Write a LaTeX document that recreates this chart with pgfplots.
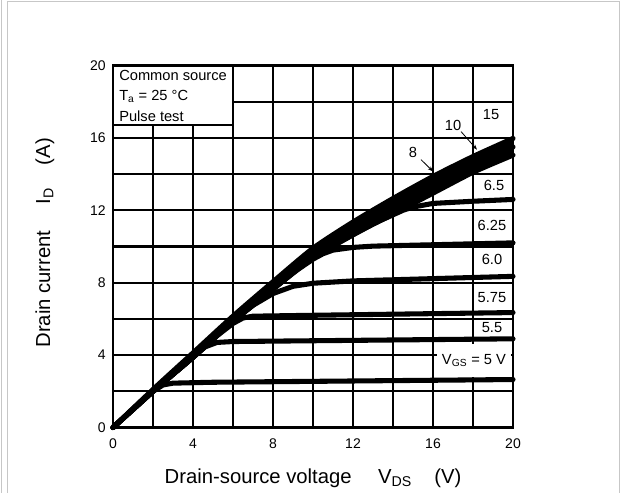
\documentclass[border=0pt]{standalone}
\usepackage{fontspec}
\setmainfont{Liberation Sans}
\usepackage{pgfplots}
\pgfplotsset{compat=1.18}
\usepgfplotslibrary{fillbetween}
\usetikzlibrary{arrows.meta}
\begin{document}
\begin{tikzpicture}
\path (-84.75pt,-48.75pt) rectangle (381pt,320.25pt);
\draw[black!22, line width=0.75pt] (-83.25pt,-48.75pt) -- (-83.25pt,320.25pt);
\draw[black!22, line width=0.75pt] (-78.75pt,-48.75pt) -- (-78.75pt,319.5pt) -- (379.5pt,319.5pt) -- (379.5pt,-48.75pt);
\begin{axis}[
  scale only axis, width=300pt, height=271.5pt,
  xmin=0, xmax=20, ymin=0, ymax=20,
  xtick={0,4,...,20}, ytick={0,4,...,20},
  minor xtick={2,6,...,18}, minor ytick={2,6,...,18},
  grid=both,
  major grid style={black, line width=1.7pt},
  minor grid style={black, line width=1.7pt},
  axis line style={black, line width=1.8pt},
  major tick length=0pt, minor tick length=0pt,
  tick label style={font=\fontsize{10.5}{12}\selectfont},
  /pgf/number format/assume math mode=true,
  xticklabel style={yshift=-5pt},
  yticklabel style={xshift=-2pt},
  xlabel={Drain-source voltage\hspace{1.3em}V\textsubscript{DS}\hspace{1.1em}(V)},
  ylabel={Drain current\hspace{1.3em}I\textsubscript{D}\hspace{1.1em}(A)},
  label style={font=\fontsize{15.2}{17}\selectfont},
  xlabel style={at={(axis description cs:0.5,-0.14)}, anchor=center},
  ylabel style={at={(axis description cs:-0.17,0.51)}, anchor=center},
  clip=false,
  cycle list={{black}},
  every axis plot/.append style={black, no markers, line width=3.8pt, line join=round, line cap=round},
]
% VGS = 15
\addplot[name path=A, smooth, tension=0.4] coordinates {(0,0) (2,2.1) (4,4.12) (6,6.15) (8,8.05) (10,9.9) (12,11.35) (14,12.65) (16,13.87) (18,14.97) (20,15.97)};
% VGS = 10
\addplot[smooth, tension=0.4] coordinates {(0,0) (2,2.05) (4,4.0) (6,6.0) (8,7.85) (10,9.65) (12,11.0) (14,12.25) (16,13.4) (18,14.52) (20,15.5)};
% VGS = 8
\addplot[name path=C, smooth, tension=0.4] coordinates {(0,0) (2,2.0) (4,3.88) (6,5.88) (8,7.65) (10,9.4) (12,10.65) (14,11.8) (16,12.95) (18,14.1) (20,15.05)};
\addplot[black, line width=0pt] fill between[of=A and C];
% VGS = 6.5
\addplot coordinates {(0,0) (2,2.0) (4,3.88) (6,5.88) (8,7.65) (10,9.4) (12,10.65) (13,11.25) (14,11.75) (14.5,12.0) (15,12.18) (16,12.38) (18,12.5) (20,12.6)};
% VGS = 6.25
\addplot coordinates {(0,0) (2,2.0) (4,3.88) (6,5.88) (8,7.65) (9,8.55) (10,9.3) (10.5,9.6) (11,9.8) (12,9.95) (13,10.02) (20,10.2)};
% VGS = 6.0
\addplot coordinates {(0,0) (2,2.0) (4,3.88) (6,5.88) (7,6.75) (8,7.4) (9,7.8) (10,7.97) (12,8.1) (20,8.35)};
% VGS = 5.75
\addplot coordinates {(0,0) (2,2.0) (4,3.88) (5,4.9) (6,5.75) (6.5,6.05) (7,6.15) (10,6.2) (20,6.35)};
% VGS = 5.5
\addplot coordinates {(0,0) (2,2.0) (3,2.95) (4,3.88) (4.6,4.45) (5.2,4.7) (6,4.75) (20,4.9)};
% VGS = 5
\addplot coordinates {(0,0) (2,2.0) (2.5,2.35) (3,2.45) (5,2.5) (20,2.65)};
% info box
\draw[black, line width=1.7pt, fill=white] (axis cs:0,20) rectangle (axis cs:6,16.7);
\node[anchor=west, font=\fontsize{11}{12}\selectfont, inner sep=0pt] at (axis cs:0.3,19.45) {Common source};
\node[anchor=west, font=\fontsize{11}{12}\selectfont, inner sep=0pt] at (axis cs:0.3,18.3) {T\textsubscript{a} = 25 °C};
\node[anchor=west, font=\fontsize{11}{12}\selectfont, inner sep=0pt] at (axis cs:0.3,17.2) {Pulse test};
% curve labels
\begin{scope}[every node/.style={font=\fontsize{11}{12}\selectfont, inner sep=1pt}]
\node at (axis cs:18.9,17.3) {15};
\node at (axis cs:17.0,16.7) {10};
\node at (axis cs:15.0,15.2) {8};
\node at (axis cs:19.05,13.4) {6.5};
\node at (axis cs:18.95,11.15) {6.25};
\node at (axis cs:18.95,9.3) {6.0};
\node at (axis cs:18.95,7.2) {5.75};
\node at (axis cs:18.95,5.5) {5.5};
\node[fill=white, minimum width=56pt, minimum height=25pt] at (axis cs:18.05,3.7) {V\textsubscript{GS} = 5 V};
\end{scope}
\draw[-{Stealth[length=4pt,width=3pt]}, line width=0.6pt] (axis cs:17.4,16.35) -- (axis cs:18.2,15.35);
\draw[-{Stealth[length=4pt,width=3pt]}, line width=0.6pt] (axis cs:15.4,14.8) -- (axis cs:16.0,14.15);
\end{axis}
\end{tikzpicture}
\end{document}
